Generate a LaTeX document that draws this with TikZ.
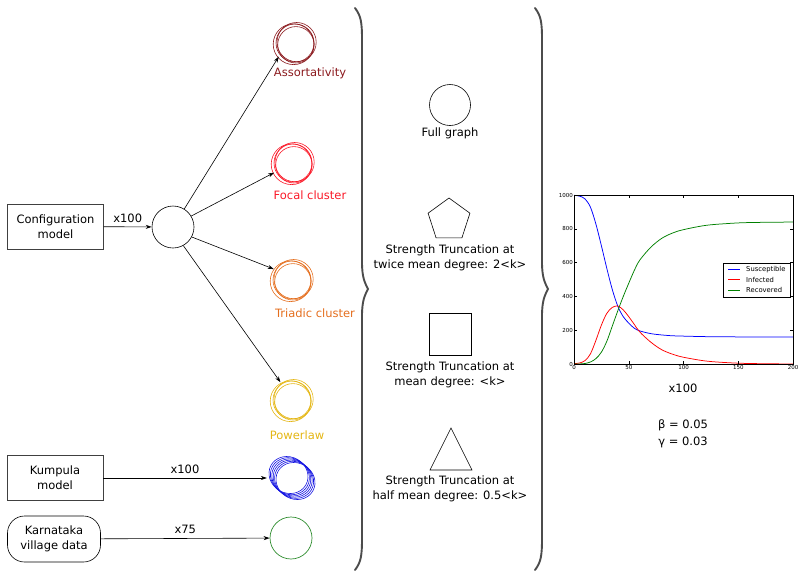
\documentclass[tikz,border=0pt]{standalone}
\usepackage{fontspec}
\setmainfont{DejaVu Sans}
\usetikzlibrary{arrows.meta,shapes.geometric}
\definecolor{cAss}{RGB}{139,26,30}
\definecolor{cFoc}{RGB}{250,25,40}
\definecolor{cTri}{RGB}{228,110,30}
\definecolor{cPow}{RGB}{228,182,20}
\definecolor{cKum}{RGB}{20,20,225}
\definecolor{cGrn}{RGB}{45,140,45}
\definecolor{mplgreen}{RGB}{0,128,0}
\begin{document}
\begin{tikzpicture}[x=1pt,y=-1pt,
  font=\fontsize{11.5}{15}\selectfont,
  box/.style={draw=black!75, minimum width=96pt, minimum height=45pt, align=center, inner sep=0pt},
  arr/.style={-{Stealth[length=6pt,width=4pt]}, line width=0.6pt},
  plainring/.style={circle, minimum size=42pt, inner sep=0pt},
  ringline/.style={line width=0.6pt},
  shp/.style={draw, line width=0.6pt, inner sep=0pt},
  lbl/.style={align=center},
  brace/.style={line width=1.9pt, black!70, line cap=round},
  ticklbl/.style={font=\fontsize{5.5}{6}\selectfont, inner sep=1pt},
  legtxt/.style={font=\fontsize{6.8}{8}\selectfont, anchor=west, inner sep=0pt}]
\useasboundingbox (0,0) rectangle (800,574);

% left boxes
\node[box] (conf) at (55.5,226.5) {Configuration\\model};
\node[box] (kumbox) at (55,478) {Kumpula\\model};
\node[box, draw=black, line width=0.6pt, rounded corners=17pt, minimum width=93pt, minimum height=46pt] (kar) at (54,539) {Karnataka\\village data};

% hub
\node[circle, shp, minimum size=42pt] (hub) at (173,227) {};
\draw[arr] (conf) -- node[above=1pt] {x100} (hub);

% ring nodes
\node[plainring] (ass) at (295,43) {};
\node[plainring] (foc) at (293,163) {};
\node[plainring] (tri) at (292,280) {};
\node[plainring] (pow) at (292,400) {};
\node[circle, minimum size=50pt, inner sep=0pt] (kum) at (292,478) {};
\node[circle, draw=cGrn, line width=0.7pt, minimum size=42pt, inner sep=0pt] (grn) at (291,538) {};

\foreach \n/\c in {ass/cAss, foc/cFoc, tri/cTri, pow/cPow} {
  \foreach \dx/\dy/\r in {0/0/19, 1.6/-0.9/19.6, -1.4/1.2/20.4, 0.9/1.8/18.2}
    \draw[\c, ringline] (\n.center) ++(\dx,\dy) circle[radius=\r pt];
}
\foreach \i in {0,...,5}
  \draw[cKum, ringline] (kum.center) ++(-3.5+1.4*\i,-3+1.2*\i) ellipse[x radius=20pt, y radius=18pt, rotate=-30];

\node[text=cAss] (lass) at (310,73) {Assortativity};
\node[text=cFoc] (lfoc) at (310,195) {Focal cluster};
\node[text=cTri] (ltri) at (315,313) {Triadic cluster};
\node[text=cPow] (lpow) at (297,435) {Powerlaw};

\draw[arr] (hub.58) -- (ass.220);
\draw[arr] (hub.31) -- (foc.207);
\draw[arr] (hub.-28) -- (tri.149);
\draw[arr] (hub.-61) -- (pow.123);
\draw[arr] (kumbox) -- node[above=1pt] {x100} (kum);
\draw[arr] (kar) -- node[above=1pt] {x75} (grn);

% braces
\foreach \ox in {362,542}
  \draw[brace] (\ox-7,8) .. controls (\ox-1,16) and (\ox,22) .. (\ox,40)
     -- (\ox,262) .. controls (\ox,278) and (\ox+3,283) .. (\ox+6,289)
     .. controls (\ox+3,295) and (\ox,300) .. (\ox,316)
     -- (\ox,538) .. controls (\ox,556) and (\ox-1,562) .. (\ox-7,570);

% middle column
\node[circle, shp, minimum size=41pt] (full) at (450,105) {};
\node (tfull) at (450,133) {Full graph};
\node[regular polygon, regular polygon sides=5, shp, minimum size=44pt] (pent) at (449,220) {};
\node[lbl] (tpent) at (450,257.5) {Strength Truncation at\\twice mean degree: 2<k>};
\node[rectangle, shp, minimum size=42pt] (sq) at (450,334) {};
\node[lbl] (tsq) at (450,375) {Strength Truncation at\\mean degree: <k>};
\draw[line width=0.6pt] (451,428) -- (430,470) -- (472,470) -- cycle;
\node[lbl] (ttri) at (450,489) {Strength Truncation at\\half mean degree: 0.5<k>};

% plot
\begin{scope}[xshift=574pt, yshift=-364pt, x=1.095pt, y=0.169pt]
  \draw[blue, line width=0.75pt] plot[smooth, tension=0.55] coordinates {
    (0,998) (5,993.5) (10,977) (15,928) (20,828) (25,700) (30,565) (35,440) (40,342) (45,280)
    (50,242) (55,212) (60,196) (70,180) (80,172) (90,167) (100,165) (120,162) (140,161) (160,160) (200,160)};
  \draw[red, line width=0.75pt] plot[smooth, tension=0.55] coordinates {
    (0,2) (5,6) (10,20) (15,60) (20,140) (25,230) (30,300) (35,335) (40,343) (45,320)
    (50,280) (55,235) (60,190) (70,130) (80,85) (90,58) (100,40) (120,18) (140,8) (160,3) (200,0)};
  \draw[mplgreen, line width=0.75pt] plot[smooth, tension=0.55] coordinates {
    (0,0) (5,0.5) (10,3) (15,12) (20,32) (25,70) (30,135) (35,225) (40,315) (45,400)
    (50,478) (55,553) (60,614) (70,690) (80,743) (90,775) (100,795) (120,820) (140,831) (160,837) (200,840)};
  \draw[line width=0.6pt] (0,0) rectangle (200,1000);
  \foreach \t in {0,50,100,150,200} {
    \draw[line width=0.4pt] (\t,0) -- ++(0,18);
    \draw[line width=0.4pt] (\t,1000) -- ++(0,-18);
    \node[ticklbl, below] at (\t,0) {\t};
  }
  \foreach \v in {0,200,400,600,800,1000} {
    \draw[line width=0.4pt] (0,\v) -- ++(2.7,0);
    \draw[line width=0.4pt] (200,\v) -- ++(-2.7,0);
    \node[ticklbl, left] at (0,\v) {\v};
  }
\end{scope}
\draw[line width=0.6pt, fill=white] (723,263) rectangle (790,297);
\draw[blue, line width=0.8pt] (728,269.5) -- (740,269.5);
\draw[red, line width=0.8pt] (728,279.5) -- (740,279.5);
\draw[mplgreen, line width=0.8pt] (728,290) -- (740,290);
\node[legtxt] (ls) at (746,269.5) {Susceptible};
\node[legtxt] (li) at (746,279.5) {Infected};
\node[legtxt] (lr) at (746,290) {Recovered};

\node (xh) at (683,388) {x100};
\node (beta) at (683,425) {β = 0.05};
\node (gam) at (683,442) {γ = 0.03};
\end{tikzpicture}
\end{document}
